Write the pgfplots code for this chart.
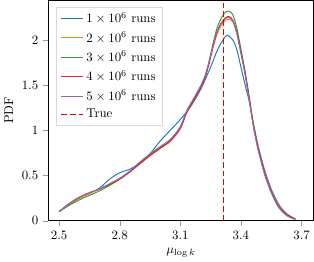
\documentclass[border=0pt]{standalone}
\usepackage{pgfplots}
\pgfplotsset{compat=1.18}
\definecolor{c1}{HTML}{1F77B4}
\definecolor{c2}{HTML}{FF7F0E}
\definecolor{c3}{HTML}{2CA02C}
\definecolor{c4}{HTML}{D62728}
\definecolor{c5}{HTML}{9467BD}
\definecolor{ctrue}{HTML}{E00000}
\begin{document}
\begin{tikzpicture}
\begin{axis}[
  scale only axis,
  width=207pt, height=172pt,
  xmin=2.446, xmax=3.759, ymin=0, ymax=2.44,
  xtick={2.5,2.8,3.1,3.4,3.7},
  xticklabels={2.5,2.8,3.1,3.4,3.7},
  ytick={0,0.5,1,1.5,2},
  yticklabels={0,0.5,1,1.5,2},
  tick style={black!40},
  tick align=outside,
  xtick pos=bottom, ytick pos=left,
  xlabel={$\mu_{\log k}$},
  ylabel={PDF},
  legend style={at={(0.03,0.97)}, anchor=north west, draw=black!15, row sep=1.5pt},
  legend cell align=left,
  every axis plot/.append style={line width=0.75pt},
]
\addplot[c1, smooth] coordinates {
(2.50,0.10)(2.55,0.18)(2.60,0.25)(2.65,0.30)(2.70,0.36)(2.75,0.46)(2.80,0.53)(2.85,0.57)(2.90,0.64)(2.95,0.74)(3.00,0.88)(3.05,1.00)(3.10,1.12)(3.15,1.26)(3.20,1.45)(3.25,1.70)(3.28,1.87)(3.30,1.96)(3.33,2.05)(3.36,2.00)(3.38,1.89)(3.40,1.70)(3.42,1.51)(3.44,1.33)(3.46,1.10)(3.48,0.88)(3.50,0.70)(3.52,0.54)(3.55,0.35)(3.58,0.21)(3.60,0.14)(3.63,0.07)(3.66,0.03)(3.67,0.02)};
\addlegendentry{$1\times10^{6}$ runs}
\addplot[c2, smooth] coordinates {
(2.50,0.10)(2.55,0.18)(2.60,0.245)(2.65,0.30)(2.70,0.35)(2.75,0.40)(2.80,0.46)(2.85,0.54)(2.90,0.63)(2.95,0.72)(3.00,0.80)(3.05,0.88)(3.10,1.02)(3.13,1.19)(3.16,1.31)(3.18,1.39)(3.20,1.47)(3.22,1.57)(3.24,1.72)(3.26,1.90)(3.28,2.05)(3.30,2.15)(3.32,2.21)(3.34,2.23)(3.36,2.20)(3.38,2.07)(3.40,1.86)(3.42,1.64)(3.44,1.38)(3.46,1.09)(3.48,0.86)(3.50,0.68)(3.52,0.52)(3.55,0.33)(3.58,0.19)(3.60,0.13)(3.63,0.06)(3.66,0.025)(3.67,0.02)};
\addlegendentry{$2\times10^{6}$ runs}
\addplot[c3, smooth] coordinates {
(2.50,0.10)(2.55,0.17)(2.60,0.23)(2.65,0.28)(2.70,0.33)(2.75,0.39)(2.80,0.46)(2.85,0.54)(2.90,0.64)(2.95,0.73)(3.00,0.81)(3.05,0.89)(3.10,1.03)(3.13,1.20)(3.16,1.32)(3.18,1.40)(3.20,1.48)(3.22,1.58)(3.24,1.74)(3.26,1.94)(3.28,2.12)(3.30,2.23)(3.32,2.30)(3.34,2.32)(3.36,2.28)(3.38,2.13)(3.40,1.90)(3.42,1.66)(3.44,1.38)(3.46,1.08)(3.48,0.85)(3.50,0.67)(3.52,0.51)(3.55,0.32)(3.58,0.18)(3.60,0.12)(3.63,0.06)(3.66,0.025)(3.67,0.02)};
\addlegendentry{$3\times10^{6}$ runs}
\addplot[c4, smooth] coordinates {
(2.50,0.10)(2.55,0.19)(2.60,0.26)(2.65,0.31)(2.70,0.35)(2.75,0.40)(2.80,0.46)(2.85,0.54)(2.90,0.63)(2.95,0.72)(3.00,0.80)(3.05,0.88)(3.10,1.02)(3.13,1.19)(3.16,1.31)(3.18,1.39)(3.20,1.47)(3.22,1.57)(3.24,1.72)(3.26,1.91)(3.28,2.08)(3.30,2.18)(3.32,2.24)(3.34,2.26)(3.36,2.22)(3.38,2.09)(3.40,1.87)(3.42,1.64)(3.44,1.37)(3.46,1.08)(3.48,0.85)(3.50,0.67)(3.52,0.51)(3.55,0.32)(3.58,0.18)(3.60,0.12)(3.63,0.06)(3.66,0.025)(3.67,0.02)};
\addlegendentry{$4\times10^{6}$ runs}
\addplot[c5, smooth] coordinates {
(2.50,0.10)(2.55,0.19)(2.60,0.26)(2.65,0.31)(2.70,0.35)(2.75,0.41)(2.80,0.47)(2.85,0.55)(2.90,0.65)(2.95,0.74)(3.00,0.82)(3.05,0.90)(3.10,1.04)(3.13,1.21)(3.16,1.33)(3.18,1.41)(3.20,1.49)(3.22,1.59)(3.24,1.74)(3.26,1.92)(3.28,2.08)(3.30,2.17)(3.32,2.23)(3.34,2.25)(3.36,2.21)(3.38,2.07)(3.40,1.85)(3.42,1.62)(3.44,1.35)(3.46,1.06)(3.48,0.83)(3.50,0.65)(3.52,0.49)(3.55,0.31)(3.58,0.17)(3.60,0.11)(3.63,0.05)(3.66,0.02)(3.67,0.015)};
\addlegendentry{$5\times10^{6}$ runs}
\addplot[ctrue, line width=1.3pt, dash pattern=on 4.6pt off 2.3pt] coordinates {(3.313,0)(3.313,2.44)};
\addlegendentry{True}
\end{axis}
\end{tikzpicture}
\end{document}
